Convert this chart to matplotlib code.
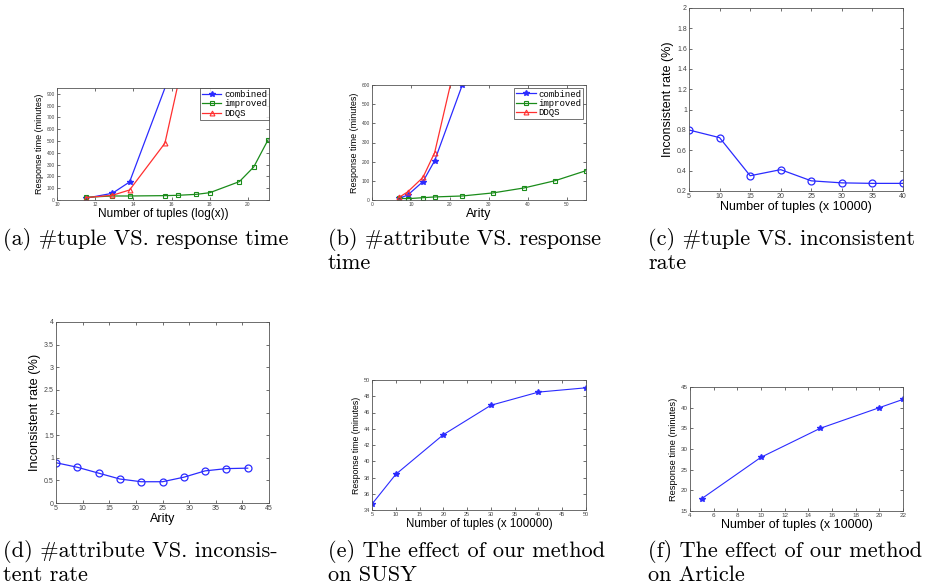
import matplotlib
matplotlib.use("Agg")
import matplotlib.pyplot as plt
from matplotlib.ticker import FuncFormatter

# ---------------- data ----------------
# (a) #tuple vs response time
a_x_combined = [11.5, 12.9, 13.8, 16.0]
a_y_combined = [15, 57, 153, 1100]
a_x_improved = [11.5, 12.9, 13.8, 15.65, 16.35, 17.3, 18.0, 19.55, 20.3, 21.05]
a_y_improved = [23, 34, 34, 37, 40, 48, 62, 156, 280, 510]
a_x_ddqs = [11.5, 12.9, 13.8, 15.65, 16.5]
a_y_ddqs = [20, 40, 85, 482, 1100]

# (b) #attribute vs response time
b_x_combined = [7, 9.2, 13.1, 16.1, 23.2]
b_y_combined = [9, 26, 96, 205, 600]
b_x_improved = [7, 9.2, 13.1, 16.1, 23.2, 31.1, 39.1, 47.1, 55]
b_y_improved = [9, 7, 12, 16, 21, 37, 63, 101, 153]
b_x_ddqs = [7, 9.2, 13.1, 16.1, 23.0]
b_y_ddqs = [14, 43, 118, 247, 850]

# (c) #tuple vs inconsistent rate
c_x = [5, 10, 15, 20, 25, 30, 35, 40]
c_y = [0.80, 0.725, 0.35, 0.41, 0.30, 0.28, 0.275, 0.275]

# (d) #attribute vs inconsistent rate
d_x = [5, 9, 13, 17, 21, 25, 29, 33, 37, 41]
d_y = [0.89, 0.79, 0.66, 0.53, 0.47, 0.47, 0.57, 0.71, 0.76, 0.77]

# (e) SUSY
e_x = [5, 10, 20, 30, 40, 50]
e_y = [34.73, 38.39, 43.27, 46.89, 48.51, 49.04]

# (f) Article
f_x = [5, 10, 15, 20, 22]
f_y = [18, 28, 35, 40, 42]

legend_labels = ["combined", "improved", "DDQS"]

captions = [
    ["(a) #tuple VS. response time"],
    ["(b) #attribute VS. response", "time"],
    ["(c) #tuple VS. inconsistent", "rate"],
    ["(d) #attribute VS. inconsis-", "tent rate"],
    ["(e) The effect of our method", "on SUSY"],
    ["(f) The effect of our method", "on Article"],
]

# ---------------- figure ----------------
W, H = 933, 587
fig = plt.figure(figsize=(W / 100, H / 100), dpi=100)
fig.patch.set_facecolor("white")

BLUE = "#2b2bff"
GREEN = "#1a8c1a"
RED = "#ff3030"
SANS = ["Liberation Sans", "DejaVu Sans"]


def px_axes(x0, y0, x1, y1):
    return fig.add_axes([x0 / W, 1 - y1 / H, (x1 - x0) / W, (y1 - y0) / H])


gfmt = FuncFormatter(lambda v, p: ("%g" % round(v, 6)))


def style(ax, tick_fs, xl_fs, yl_fs, xlabel, ylabel):
    ax.tick_params(direction="in", top=True, right=True, length=2.5,
                   width=0.5, labelsize=tick_fs, pad=1.5, colors="#333333",
                   labelcolor="#444444")
    for s in ax.spines.values():
        s.set_linewidth(0.6)
        s.set_color("#555555")
    ax.set_xlabel(xlabel, fontsize=xl_fs, family=SANS, labelpad=0.5)
    ax.set_ylabel(ylabel, fontsize=yl_fs, family=SANS, labelpad=2)
    for lab in ax.get_xticklabels() + ax.get_yticklabels():
        lab.set_family(SANS)
    ax.xaxis.set_major_formatter(gfmt)
    ax.yaxis.set_major_formatter(gfmt)


def legend(ax, pad):
    leg = ax.legend(loc="upper right", prop={"family": "Liberation Mono", "size": 6.5},
                    frameon=True, fancybox=False, borderpad=0.2, labelspacing=0.05,
                    handlelength=2.2, handletextpad=0.3, borderaxespad=pad)
    leg.get_frame().set_linewidth(0.6)
    leg.get_frame().set_edgecolor("#333333")


# (a)
ax = px_axes(57, 88, 269, 200)
ax.plot(a_x_combined, a_y_combined, "-*", color=BLUE, lw=0.9, ms=4, label=legend_labels[0])
ax.plot(a_x_improved, a_y_improved, "-s", color=GREEN, lw=0.9, ms=3.5, mfc="none", mew=0.8, label=legend_labels[1])
ax.plot(a_x_ddqs, a_y_ddqs, "-^", color=RED, lw=0.9, ms=3.5, mfc="none", mew=0.8, label=legend_labels[2])
ax.set_xlim(10, 21.1)
ax.set_ylim(0, 950)
ax.set_xticks([10, 12, 14, 16, 18, 20])
ax.set_yticks(range(0, 901, 100))
style(ax, 3.5, 8.5, 6.5, "Number of tuples (log(x))", "Response time (minutes)")
legend(ax, 0.0)

# (b)
ax = px_axes(372, 85, 586, 200)
ax.plot(b_x_combined, b_y_combined, "-*", color=BLUE, lw=0.9, ms=4, label=legend_labels[0])
ax.plot(b_x_improved, b_y_improved, "-s", color=GREEN, lw=0.9, ms=3.5, mfc="none", mew=0.8, label=legend_labels[1])
ax.plot(b_x_ddqs, b_y_ddqs, "-^", color=RED, lw=0.9, ms=3.5, mfc="none", mew=0.8, label=legend_labels[2])
ax.set_xlim(0, 55)
ax.set_ylim(0, 600)
ax.set_xticks(range(0, 51, 10))
ax.set_yticks(range(0, 601, 100))
style(ax, 3.5, 9, 6.5, "Arity", "Response time (minutes)")
legend(ax, 0.3)

# (c)
ax = px_axes(689, 8, 903, 191)
ax.plot(c_x, c_y, "-o", color=BLUE, lw=0.9, ms=5, mfc="none", mew=0.9)
ax.set_xlim(5, 40)
ax.set_ylim(0.2, 2)
ax.set_xticks(range(5, 41, 5))
ax.set_yticks([0.2, 0.4, 0.6, 0.8, 1.0, 1.2, 1.4, 1.6, 1.8, 2.0])
style(ax, 5, 9, 9, "Number of tuples (x 10000)", "Inconsistent rate (%)")

# (d)
ax = px_axes(56, 322, 269, 503)
ax.plot(d_x, d_y, "-o", color=BLUE, lw=0.9, ms=5, mfc="none", mew=0.9)
ax.set_xlim(5, 45)
ax.set_ylim(0, 4)
ax.set_xticks(range(5, 46, 5))
ax.set_yticks([0, 0.5, 1, 1.5, 2, 2.5, 3, 3.5, 4])
style(ax, 5, 9, 9.2, "Arity", "Inconsistent rate (%)")

# (e)
ax = px_axes(372, 380, 586, 510)
ax.plot(e_x, e_y, "-*", color=BLUE, lw=0.8, ms=4)
ax.set_xlim(5, 50)
ax.set_ylim(34, 50)
ax.set_xticks(range(5, 51, 5))
ax.set_yticks(range(34, 51, 2))
style(ax, 4, 8.3, 6.3, "Number of tuples (x 100000)", "Response time (minutes)")

# (f)
ax = px_axes(690, 387, 903, 511)
ax.plot(f_x, f_y, "-*", color=BLUE, lw=0.8, ms=4)
ax.set_xlim(4, 22)
ax.set_ylim(15, 45)
ax.set_xticks(range(4, 23, 2))
ax.set_yticks(range(15, 46, 5))
style(ax, 4.5, 9, 6.7, "Number of tuples (x 10000)", "Response time (minutes)")

# captions
cap_pos = [(3, 245), (328, 245), (648, 245), (3, 557), (328, 557), (648, 557)]
for (cx, cy), lines in zip(cap_pos, captions):
    for i, line in enumerate(lines):
        fig.text(cx / W, 1 - (cy + 24 * i) / H, line, fontsize=16,
                 family=["cmr10", "DejaVu Serif"], ha="left", va="baseline")

fig.savefig("out.png", dpi=100, facecolor="white")
